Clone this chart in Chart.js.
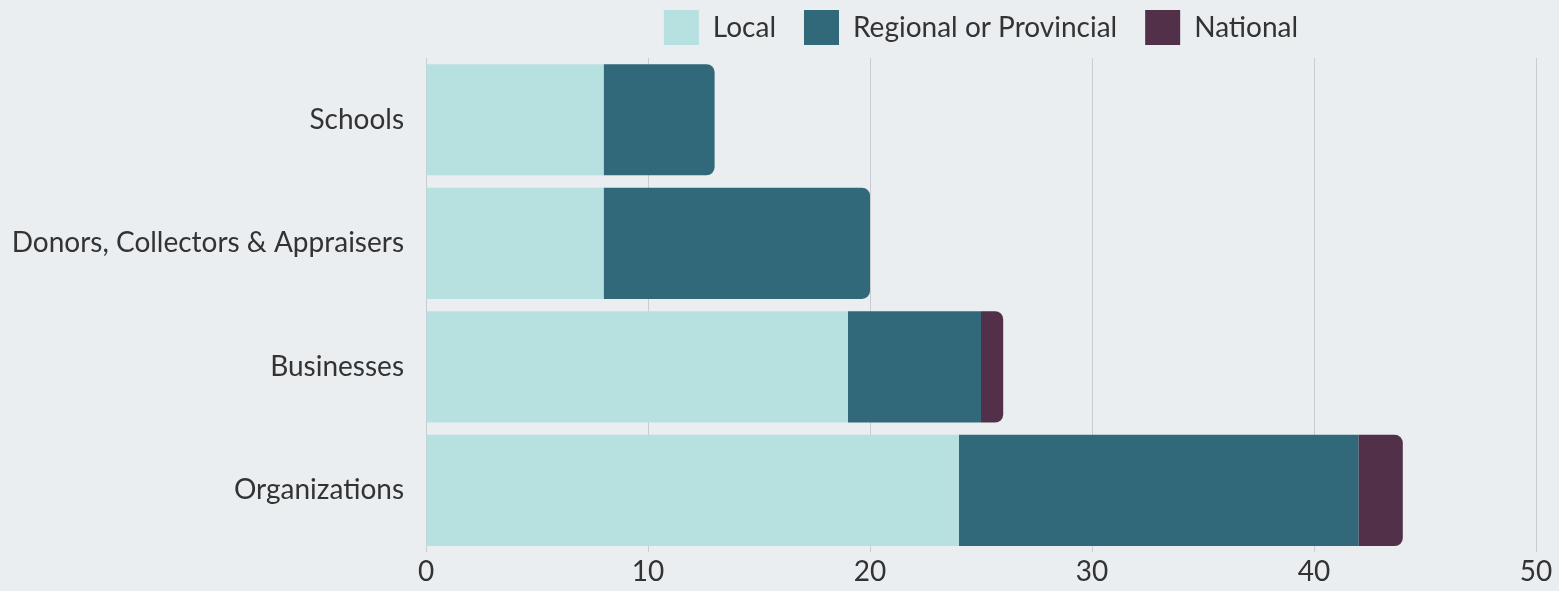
<!DOCTYPE html>
<html>
<head>
<meta charset="utf-8">
<script src="https://cdn.jsdelivr.net/npm/chart.js@4"></script>
<style>
  html, body { margin: 0; padding: 0; background: #eaeef1; }
  #wrap { width: 1559px; height: 591px; }
</style>
</head>
<body>
<div id="wrap"><canvas id="chart"></canvas></div>
<script>
// Data
const categories = ['Schools', 'Donors, Collectors & Appraisers', 'Businesses', 'Organizations'];
const localValues = [8, 8, 19, 24];
const regionalValues = [5, 12, 6, 18];
const nationalValues = [null, null, 1, 2];
const xTicks = [0, 10, 20, 30, 40, 50];

const seriesNames = ['Local', 'Regional or Provincial', 'National'];
const seriesColors = ['#b7e0e0', '#31697a', '#52304a'];
const allSeries = [localValues, regionalValues, nationalValues];

const FONT = 'Lato';
const FONT_SIZE = 28;
const TEXT = '#333333';
const LEGEND_GAP = 28;

// round only the outer end of each stack
function endRadius(ctx) {
    const i = ctx.dataIndex;
    for (let d = allSeries.length - 1; d >= 0; d--) {
        if (allSeries[d][i]) {
            return d === ctx.datasetIndex ? 8 : 0;
        }
    }
    return 0;
}

// legend: fixed height, centered over the plot area
const legendOverArea = {
    id: 'legendOverArea',
    beforeLayout(chart) {
        const lg = chart.legend;
        if (!lg || lg._patched) return;
        const fit = lg.fit.bind(lg);
        lg.fit = function () {
            fit();
            this.height = 52;
        };
        lg._patched = true;
    },
    afterLayout(chart) {
        const lg = chart.legend;
        if (!lg) return;
        lg.left = chart.chartArea.left;
        lg.right = chart.chartArea.right;
        lg.width = lg.right - lg.left;
        lg.top = 10 - LEGEND_GAP;
    }
};

const ctx = document.getElementById('chart').getContext('2d');
new Chart(ctx, {
    type: 'bar',
    data: {
        labels: categories,
        datasets: allSeries.map((vals, i) => ({
            label: seriesNames[i],
            data: vals,
            backgroundColor: seriesColors[i],
            borderWidth: 0,
            borderRadius: endRadius,
            borderSkipped: 'start',
            barPercentage: 0.9,
            categoryPercentage: 1.0
        }))
    },
    options: {
        indexAxis: 'y',
        responsive: true,
        maintainAspectRatio: false,
        animation: false,
        layout: { padding: { top: 6, right: 23, bottom: 0, left: 0 } },
        plugins: {
            legend: {
                position: 'top',
                align: 'center',
                labels: {
                    font: { family: FONT, size: FONT_SIZE },
                    color: TEXT,
                    boxWidth: 35,
                    boxHeight: 35,
                    padding: LEGEND_GAP
                }
            },
            tooltip: { enabled: false }
        },
        scales: {
            x: {
                stacked: true,
                min: 0,
                max: 50,
                afterBuildTicks(scale) {
                    scale.ticks = xTicks.map(v => ({ value: v }));
                },
                afterFit(scale) { scale.height = 35; },
                grid: { color: '#c9cdd1', lineWidth: 1, drawTicks: false },
                border: { display: false },
                ticks: {
                    font: { family: FONT, size: FONT_SIZE },
                    color: TEXT,
                    padding: 3
                }
            },
            y: {
                stacked: true,
                grid: { display: false, drawTicks: false },
                border: { display: false },
                afterFit(scale) { scale.width = 426; },
                ticks: {
                    font: { family: FONT, size: FONT_SIZE },
                    color: TEXT,
                    padding: 22
                }
            }
        }
    },
    plugins: [legendOverArea]
});
</script>
</body>
</html>
